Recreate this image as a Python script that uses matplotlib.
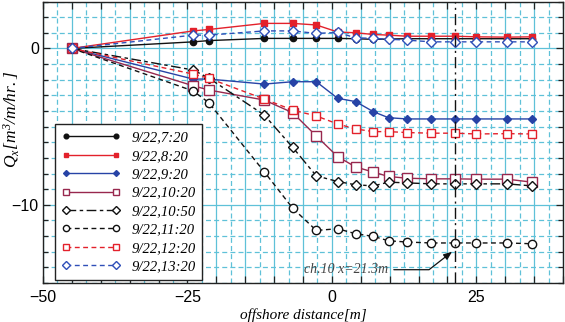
import matplotlib
matplotlib.use("Agg")
import matplotlib.pyplot as plt
from matplotlib.ticker import MultipleLocator, FuncFormatter

plt.rcParams["mathtext.fontset"] = "custom"
plt.rcParams["mathtext.it"] = "Liberation Serif:italic"
plt.rcParams["mathtext.rm"] = "Liberation Serif:italic"
plt.rcParams["mathtext.default"] = "it"

# ---------------- data ----------------
x_pos = [-45, -24, -21.3, -11.7, -6.8, -2.7, 1.0, 4.1, 7.2, 9.8, 13.0, 17.2, 21.3, 25.0, 30.3, 34.6]

q_0720 = [0, 0.42, 0.50, 0.64, 0.64, 0.64, 0.64, 0.62, 0.58, 0.60, 0.62, 0.62, 0.62, 0.62, 0.62, 0.62]
q_0820 = [0, 1.12, 1.21, 1.60, 1.60, 1.50, 1.05, 1.00, 0.89, 0.85, 0.78, 0.78, 0.78, 0.74, 0.72, 0.74]
q_0920 = [0, -1.96, -1.96, -2.28, -2.13, -2.13, -3.19, -3.40, -4.05, -4.43, -4.51, -4.51, -4.51, -4.51, -4.51, -4.51]
q_1020 = [0, -2.39, -2.66, -3.30, -4.11, -5.60, -6.92, -7.58, -7.91, -8.19, -8.30, -8.34, -8.34, -8.36, -8.36, -8.55]
q_1050 = [0, -1.38, -1.90, -4.26, -6.32, -8.15, -8.51, -8.72, -8.79, -8.55, -8.60, -8.66, -8.66, -8.66, -8.66, -8.79]
q_1120 = [0, -2.72, -3.47, -7.89, -10.21, -11.64, -11.53, -11.85, -12.02, -12.30, -12.38, -12.44, -12.44, -12.44, -12.44, -12.49]
q_1220 = [0, -1.64, -1.91, -3.24, -3.94, -4.32, -4.83, -5.15, -5.32, -5.32, -5.38, -5.42, -5.42, -5.47, -5.45, -5.47]
q_1320 = [0, 0.85, 0.85, 1.12, 1.12, 0.96, 1.02, 0.68, 0.64, 0.59, 0.53, 0.42, 0.42, 0.42, 0.42, 0.42]

labels = ["9/22,7:20", "9/22,8:20", "9/22,9:20", "9/22,10:20",
          "9/22,10:50", "9/22,11:20", "9/22,12:20", "9/22,13:20"]

ch10_x = 21.3
ch10_label = "ch.10 x=21.3m"

# ---------------- style ----------------
BLACK = "#111111"
RED = "#e3212b"
BLUE = "#2743a6"
MAROON = "#98284e"
BLUE2 = "#2f4fb8"
GRID = "#5fc1d8"

series = [
    (q_0720, dict(color=BLACK, ls="-", marker="o", mfc=BLACK, ms=4.5)),
    (q_0820, dict(color=RED, ls="-", marker="s", mfc=RED, ms=4.5)),
    (q_0920, dict(color=BLUE, ls="-", marker="D", mfc=BLUE, ms=4)),
    (q_1020, dict(color=MAROON, ls="-", marker="s", mfc="white", ms=6.5)),
    (q_1050, dict(color=BLACK, ls=(0, (7, 2.5, 2.5, 2.5)), marker="D", mfc="white", ms=5)),
    (q_1120, dict(color=BLACK, ls=(0, (3.5, 2.5)), marker="o", mfc="white", ms=6)),
    (q_1220, dict(color=RED, ls=(0, (3.5, 2.5)), marker="s", mfc="white", ms=5.5)),
    (q_1320, dict(color=BLUE2, ls=(0, (3.5, 2.5)), marker="D", mfc="white", ms=5)),
]

fig = plt.figure(figsize=(5.65, 3.22), dpi=100)
ax = fig.add_axes([43 / 565, 1 - 283 / 322, (563 - 43) / 565, (283 - 1.5) / 322])

for (vals, st), lab in zip(series, labels):
    ax.plot(x_pos, vals, label=lab, lw=1.0, mew=1.0, mec=st["color"], zorder=3, **st)

ax.axvline(ch10_x, color=BLACK, lw=1.0, ls=(0, (8, 3, 1.5, 3)), zorder=4)

ax.set_xlim(-50, 40)
ax.set_ylim(-15, 3)

def fmt(v, pos):
    if abs(v % 25) < 1e-6 or abs(v % 25 - 25) < 1e-6:
        s = f"{v:g}"
        return s.replace("-", "\u2212")
    return ""

ax.xaxis.set_major_locator(MultipleLocator(5))
ax.xaxis.set_major_formatter(FuncFormatter(fmt))
ax.xaxis.set_minor_locator(MultipleLocator(2.5))
ax.yaxis.set_major_locator(MultipleLocator(10))
ax.yaxis.set_major_formatter(FuncFormatter(lambda v, p: f"{v:g}".replace("-", "\u2212")))
ax.yaxis.set_minor_locator(MultipleLocator(1))

ax.grid(which="major", color=GRID, lw=0.9, ls="-", zorder=0)
ax.grid(which="minor", color=GRID, lw=0.9, ls=(0, (4, 2.5)), zorder=0)
ax.set_axisbelow(True)

ax.tick_params(which="both", direction="in", top=True, right=True, color="#222222", width=0.9)
ax.tick_params(axis="x", which="major", length=5, pad=5)
ax.tick_params(axis="x", which="minor", length=0)
ax.tick_params(axis="y", which="major", length=5, pad=3)
ax.tick_params(axis="y", which="minor", length=3.5)
for lab in ax.get_xticklabels() + ax.get_yticklabels():
    lab.set_fontfamily("Liberation Sans")
    lab.set_fontsize(11.5)
for sp in ax.spines.values():
    sp.set_color("#222222")
    sp.set_linewidth(1.0)

serif_it = dict(family="Liberation Serif", style="italic")
ax.set_xlabel("offshore distance[m]", fontsize=11, labelpad=2, **serif_it)
ax.set_ylabel(r"$Q_x[m^3/m/hr.]$", fontsize=12.5)
ax.yaxis.set_label_coords(-0.043, 0.58)

leg = ax.legend(loc="lower left", bbox_to_anchor=(12 / 520, 3 / 281.5),
                prop=dict(family="Liberation Serif", style="italic", size=10.5),
                numpoints=2, markerscale=0.75, handlelength=4.0, handletextpad=0.8,
                labelspacing=0.36, borderpad=0.45, fancybox=False, framealpha=1,
                edgecolor="#222222", borderaxespad=0)
leg.get_frame().set_linewidth(1.0)
leg.set_zorder(5)

ax.annotate(ch10_label, xy=(20.8, -13.0), xytext=(-4.8, -14.15),
            ha="left", va="center", fontsize=10, color="#444444", **serif_it,
            arrowprops=dict(arrowstyle="-|>,head_length=0.5,head_width=0.2", color=BLACK, lw=0.9,
                            connectionstyle="angle,angleA=0,angleB=38,rad=0",
                            shrinkA=2, shrinkB=0),
            zorder=6)

fig.savefig("out.png", dpi=100)
